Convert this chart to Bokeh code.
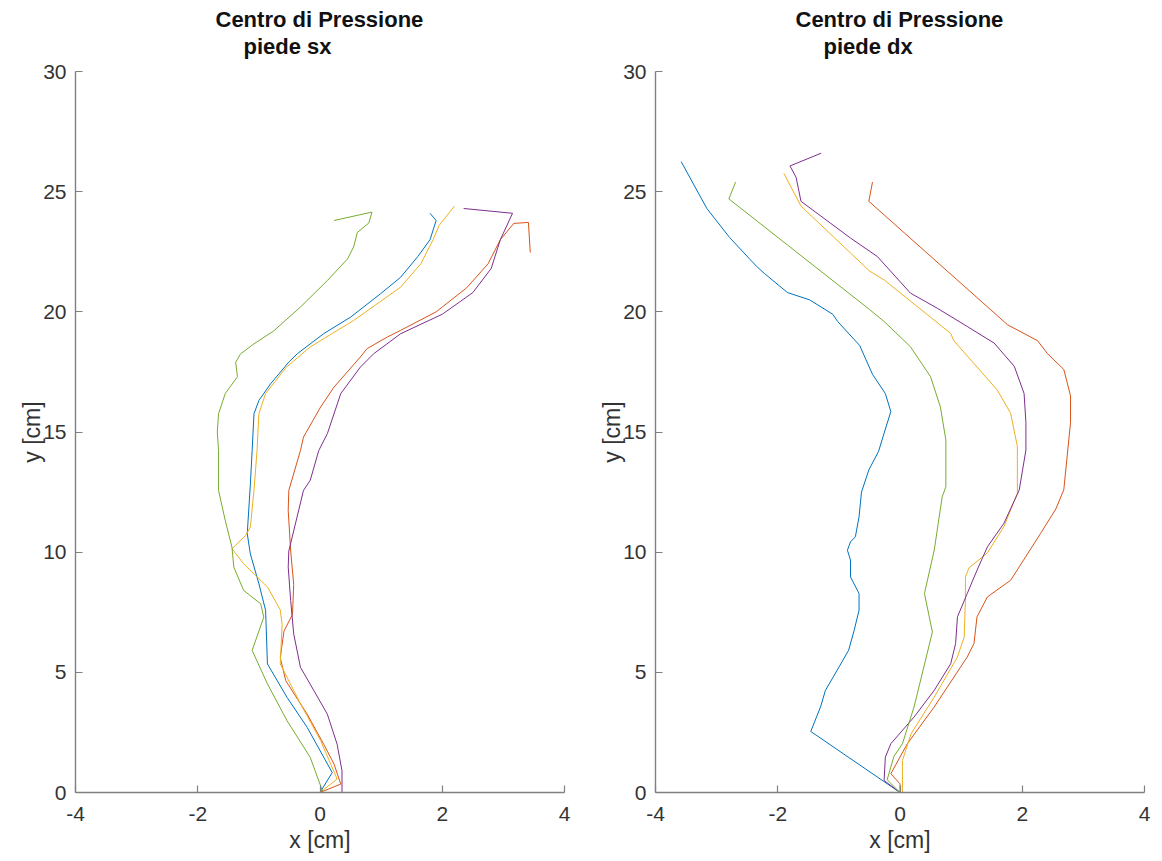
from bokeh.plotting import figure
from bokeh.models import Range1d, Title, FixedTicker
from bokeh.layouts import row
from bokeh.embed import file_html
from bokeh.resources import INLINE

# ---------------- data ----------------
x_ticks = [-4, -2, 0, 2, 4]
x_tick_labels = ["-4", "-2", "0", "2", "4"]
y_ticks = [0, 5, 10, 15, 20, 25, 30]
y_tick_labels = ["0", "5", "10", "15", "20", "25", "30"]
x_label = "x [cm]"
y_label = "y [cm]"
title_line1 = "Centro di Pressione"
title_sx = "piede sx"
title_dx = "piede dx"

colors = ["#0072BD", "#D95319", "#EDB120", "#7E2F8E", "#77AC30"]

# left foot (sx)
sx_blue_x = [0.0, 0.2, -0.21, -0.54, -0.86, -0.89, -1.0, -1.14, -1.19, -1.14, -1.11, -1.08, -1.0, -0.81, -0.51, -0.37, 0.06, 0.5, 0.99, 1.32, 1.6, 1.8, 1.9, 1.8]
sx_blue_y = [0.0, 0.83, 2.71, 3.96, 5.35, 7.58, 8.69, 9.93, 10.77, 12.8, 14.23, 15.76, 16.31, 17.0, 17.91, 18.26, 19.09, 19.78, 20.75, 21.44, 22.3, 23.0, 23.8, 24.1]
sx_orange_x = [0.0, 0.34, 0.23, 0.06, -0.21, -0.56, -0.65, -0.59, -0.45, -0.43, -0.48, -0.52, -0.51, -0.32, -0.27, 0.01, 0.23, 0.66, 0.77, 1.1, 1.32, 1.9, 2.4, 2.75, 2.95, 3.17, 3.41, 3.44]
sx_orange_y = [0.0, 0.35, 1.18, 2.01, 3.26, 4.65, 5.6, 6.71, 7.41, 8.66, 10.05, 11.74, 12.57, 14.23, 14.79, 16.04, 16.87, 18.12, 18.47, 18.95, 19.23, 20.0, 21.0, 22.0, 23.0, 23.68, 23.72, 22.47]
sx_yellow_x = [0.0, 0.28, 0.01, -0.32, -0.65, -0.62, -0.65, -0.86, -1.25, -1.44, -1.22, -1.14, -1.08, -1.03, -1.0, -0.89, -0.55, -0.16, 0.55, 1.32, 1.65, 1.85, 1.95, 2.2]
sx_yellow_y = [0.0, 0.56, 2.16, 3.69, 5.35, 7.0, 7.6, 8.55, 9.52, 10.14, 10.69, 11.04, 12.57, 14.23, 15.76, 16.6, 17.7, 18.54, 19.64, 21.03, 22.0, 23.0, 23.6, 24.4]
sx_purple_x = [0.36, 0.36, 0.28, 0.12, -0.1, -0.32, -0.43, -0.48, -0.52, -0.51, -0.27, -0.16, -0.02, 0.12, 0.34, 0.66, 0.88, 1.32, 2.0, 2.5, 2.8, 2.95, 3.15, 2.35]
sx_purple_y = [0.0, 0.9, 2.01, 3.26, 4.24, 5.21, 6.6, 7.99, 9.38, 10.05, 12.57, 12.99, 14.23, 14.93, 16.6, 17.7, 18.26, 19.09, 19.9, 20.8, 21.8, 23.0, 24.1, 24.3]
sx_green_x = [0.0, 0.04, -0.16, -0.54, -0.86, -1.11, -0.92, -0.97, -1.25, -1.41, -1.44, -1.55, -1.66, -1.66, -1.68, -1.66, -1.55, -1.35, -1.38, -1.3, -1.08, -0.76, -0.32, 0.12, 0.45, 0.55, 0.61, 0.8, 0.85, 0.23]
sx_green_y = [0.0, 0.07, 1.46, 2.99, 4.52, 5.91, 7.3, 7.85, 8.41, 9.38, 10.2, 11.32, 12.57, 14.23, 15.0, 15.76, 16.6, 17.3, 17.9, 18.25, 18.67, 19.2, 20.2, 21.3, 22.2, 22.7, 23.3, 23.7, 24.15, 23.8]

# right foot (dx)
dx_blue_x = [0.0, -1.46, -1.3, -1.22, -1.03, -0.84, -0.75, -0.67, -0.67, -0.81, -0.81, -0.86, -0.81, -0.73, -0.67, -0.63, -0.51, -0.35, -0.26, -0.15, -0.24, -0.45, -0.66, -1.02, -1.1, -1.48, -1.84, -2.22, -2.35, -2.79, -3.16, -3.58]
dx_blue_y = [0.0, 2.54, 3.56, 4.25, 5.08, 5.92, 6.75, 7.58, 8.28, 8.97, 9.67, 10.08, 10.43, 10.64, 11.47, 12.5, 13.42, 14.2, 14.95, 15.85, 16.6, 17.4, 18.6, 19.6, 19.9, 20.5, 20.8, 21.6, 21.9, 23.1, 24.3, 26.25]
dx_orange_x = [0.0, 0.0, -0.15, 0.12, 0.56, 1.1, 1.21, 1.26, 1.43, 1.81, 2.3, 2.55, 2.68, 2.79, 2.79, 2.68, 2.41, 2.25, 1.76, -0.51, -0.45]
dx_orange_y = [0.0, 0.36, 0.78, 2.03, 3.56, 5.64, 6.2, 7.31, 8.14, 8.83, 10.78, 11.8, 12.6, 15.4, 16.5, 17.6, 18.27, 18.8, 19.46, 24.6, 25.4]
dx_yellow_x = [0.04, 0.04, 0.18, 0.56, 0.94, 1.05, 1.07, 1.07, 1.13, 1.43, 1.7, 1.92, 1.92, 1.81, 1.59, 0.88, 0.83, -0.26, -0.5, -0.81, -1.62, -1.9]
dx_yellow_y = [0.0, 1.33, 2.44, 3.97, 5.64, 6.47, 8.0, 8.97, 9.35, 9.97, 11.06, 12.45, 14.4, 15.78, 16.75, 18.8, 19.1, 21.33, 21.7, 22.45, 24.4, 25.76]
dx_purple_x = [0.0, -0.26, -0.24, -0.15, 0.23, 0.56, 0.83, 0.91, 0.94, 1.1, 1.26, 1.43, 1.7, 1.95, 2.06, 2.06, 2.03, 1.87, 1.54, 1.1, 0.61, 0.17, -0.37, -0.81, -1.62, -1.7, -1.8, -1.29]
dx_purple_y = [0.0, 0.5, 1.47, 2.03, 3.14, 4.25, 5.36, 6.2, 7.31, 8.28, 9.25, 10.22, 11.2, 12.58, 14.25, 15.4, 16.6, 17.73, 18.7, 19.39, 20.15, 20.78, 22.3, 23.07, 24.6, 25.6, 26.07, 26.6]
dx_green_x = [0.0, -0.21, -0.1, 0.04, 0.23, 0.39, 0.53, 0.4, 0.56, 0.69, 0.75, 0.75, 0.66, 0.5, 0.17, -0.26, -0.5, -2.8, -2.69]
dx_green_y = [0.0, 0.53, 1.5, 2.03, 3.56, 5.22, 6.68, 8.28, 10.08, 12.3, 12.72, 14.67, 16.05, 17.3, 18.55, 19.6, 20.1, 24.7, 25.4]

sx_series = [(sx_blue_x, sx_blue_y), (sx_orange_x, sx_orange_y), (sx_yellow_x, sx_yellow_y),
             (sx_purple_x, sx_purple_y), (sx_green_x, sx_green_y)]
dx_series = [(dx_blue_x, dx_blue_y), (dx_orange_x, dx_orange_y), (dx_yellow_x, dx_yellow_y),
             (dx_purple_x, dx_purple_y), (dx_green_x, dx_green_y)]

FONT = "Liberation Sans"
FRAME_W = 489
FRAME_H = 721
TITLE_FS = 22
# left alignment offsets of the title lines, measured from the frame's left edge
LINE1_OFF = int(FRAME_W / 2 - 4.72 * TITLE_FS)
LINE2_OFF = int(LINE1_OFF + 1.28 * TITLE_FS)


def make_panel(subtitle, series, border_left, border_right):
    p = figure(frame_width=FRAME_W, frame_height=FRAME_H,
               x_range=Range1d(-4, 4), y_range=Range1d(0, 30),
               output_backend="svg", toolbar_location=None,
               min_border_left=border_left, min_border_right=border_right,
               min_border_top=71, min_border_bottom=64,
               background_fill_color="white", border_fill_color="white")
    p.outline_line_color = None
    p.grid.visible = False

    # first title line (outer), then the sub-title line added nearest to the frame
    p.title.text = title_line1
    p.title.text_font = FONT
    p.title.text_font_size = f"{TITLE_FS}px"
    p.title.text_font_style = "bold"
    p.title.text_color = "#111111"
    p.title.align = "left"
    p.title.offset = LINE1_OFF
    p.title.standoff = -26
    t2 = Title(text=subtitle, text_font=FONT, text_font_size=f"{TITLE_FS}px",
               text_font_style="bold", text_color="#111111", align="left",
               offset=LINE2_OFF, standoff=26)
    p.add_layout(t2, "above")

    for ax, ticks, labs, lab in ((p.xaxis[0], x_ticks, x_tick_labels, x_label),
                                 (p.yaxis[0], y_ticks, y_tick_labels, y_label)):
        ax.ticker = FixedTicker(ticks=ticks)
        ax.major_label_overrides = {t: s for t, s in zip(ticks, labs)}
        ax.minor_tick_line_color = None
        ax.major_tick_in = 7
        ax.major_tick_out = 0
        ax.axis_line_color = "#808080"
        ax.axis_line_width = 1.4
        ax.major_tick_line_color = "#808080"
        ax.major_tick_line_width = 1.2
        ax.major_label_text_font = FONT
        ax.major_label_text_font_size = "21px"
        ax.major_label_text_color = "#333333"
        ax.axis_label = lab
        ax.axis_label_text_font = FONT
        ax.axis_label_text_font_size = "23px"
        ax.axis_label_text_font_style = "normal"
        ax.axis_label_text_color = "#333333"
    p.xaxis[0].major_label_standoff = 14
    p.xaxis[0].axis_label_standoff = 3
    p.yaxis[0].major_label_standoff = 9
    p.yaxis[0].axis_label_standoff = -5

    for (xs, ys), c in zip(series, colors):
        p.line(xs, ys, line_color=c, line_width=1.0)
    return p


p1 = make_panel(title_sx, sx_series, 75, 24)
p2 = make_panel(title_dx, dx_series, 67, 12)
layout = row(p1, p2)

open("out.html", "w").write(file_html(layout, INLINE))
